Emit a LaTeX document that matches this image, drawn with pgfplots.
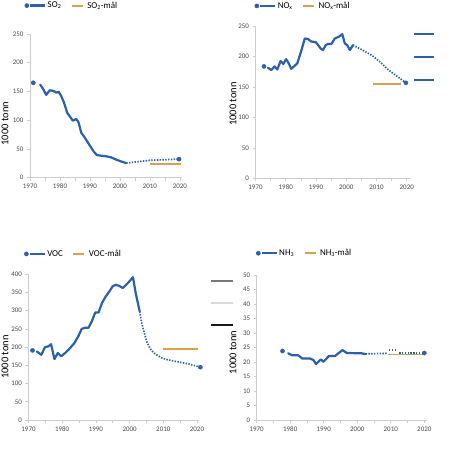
\documentclass[border=0pt]{standalone}
\usepackage{pgfplots}
\pgfplotsset{compat=1.18}
\usepackage{fontspec}
\setmainfont{Carlito}
\definecolor{sblue}{RGB}{42,96,172}
\definecolor{sorange}{RGB}{218,160,78}
\definecolor{axgray}{RGB}{205,205,205}
\definecolor{txtgray}{RGB}{70,70,70}
\pgfplotsset{
  myaxis/.style={
    scale only axis, clip=false,
    axis x line*=bottom, axis y line*=left,
    axis line style={-, axgray, line width=0.8bp},
    tick style={axgray, line width=0.6bp},
    tick align=outside,
    major tick length=3bp, minor tick length=3bp,
    xmin=1970,
    xtick={1970,1980,...,2020},
    minor xtick={1975,1985,...,2015},
    ticklabel style={font=\fontsize{7}{8}\selectfont, text=txtgray},
    /pgf/number format/assume math mode=true,
    /pgf/number format/1000 sep={},
    ymin=0,
    ylabel={1000 tonn},
    ylabel style={font=\fontsize{10.5}{12}\selectfont, text=black, anchor=center},
    legend columns=2,
    legend style={draw=none, fill=none, font=\fontsize{9}{10}\selectfont, inner sep=0pt, outer sep=0pt,
      anchor=west, nodes={inner xsep=1.5bp, inner ysep=0.5bp},
      /tikz/every even column/.append style={column sep=8bp}},
    legend cell align=left,
  },
  mainimg/.style={legend image code/.code={
     \draw[sblue, line width=2.2bp] (3.3bp,0) -- (18.3bp,0);
     \fill[sblue] (0,0) circle (2.1bp);}},
  goalimg/.style={legend image code/.code={
     \draw[draw=sorange, line width=1.9bp] (0bp,0) -- (11bp,0);
     \path[draw=none] (11bp,0) -- (14bp,0);}},
  solidline/.style={sblue, line width=2.2bp, line join=round, line cap=round},
  dotline/.style={sblue, line width=1.7bp, dash pattern=on 1.4bp off 1.4bp},
  goal/.style={sorange, line width=1.8bp},
  endpt/.style={only marks, mark=*, mark size=2.1bp, sblue},
}
\begin{document}
\begin{tikzpicture}
\useasboundingbox (0,0) rectangle (467bp,-457bp);

% ---------------- SO2 ----------------
\begin{axis}[myaxis, at={(30bp,-177.5bp)}, anchor=south west,
  width=152bp, height=143.5bp, xmax=2020.7, ymax=250, ytick={0,50,...,250},
  ylabel style={at={(axis description cs:-0.164,0.375)}},
  legend style={at={(axis description cs:-0.036,1.198)}}]
\addlegendimage{mainimg}\addlegendentry{SO\textsubscript{2}}
\addlegendimage{goalimg}\addlegendentry{SO\textsubscript{2}-mål}
\addplot[solidline, forget plot] coordinates {
(1973.4,162) (1974.4,154) (1975.4,144) (1976.6,152) (1977.7,151) (1978.8,148) (1979.6,149)
(1980.4,142) (1981.3,131) (1982.4,113) (1983.6,104) (1984.3,99) (1985.4,102) (1986.2,96)
(1987.1,78) (1988.2,70) (1989.3,61) (1990.4,52) (1991.3,45) (1992.3,39) (1993.8,38)
(1995.4,37) (1997.1,35) (1998.8,31) (2000.4,28) (2002.1,25)};
\addplot[dotline, forget plot] coordinates {(2002.1,25) (2005,27) (2010,30) (2015,31) (2019.7,32)};
\addplot[goal, forget plot] coordinates {(2010.1,23) (2020.2,23)};
\addplot[endpt, forget plot] coordinates {(1971.1,165) (2019.7,32)};
\end{axis}

% ---------------- NOx ----------------
\begin{axis}[myaxis, at={(255.5bp,-178.3bp)}, anchor=south west,
  width=155.5bp, height=152bp, xmax=2021.4, ymax=250, ytick={0,50,...,250},
  ylabel style={at={(axis description cs:-0.145,0.489)}},
  legend style={at={(axis description cs:-0.006,1.134)}}]
\addlegendimage{mainimg}\addlegendentry{NO\textsubscript{x}}
\addlegendimage{goalimg}\addlegendentry{NO\textsubscript{x}-mål}
\addplot[solidline, forget plot] coordinates {
(1974.1,182) (1975.2,178) (1976.3,184) (1977.2,179) (1978.3,193) (1979.2,188) (1980.1,196)
(1981,189) (1981.8,180) (1982.7,184) (1983.8,189) (1984.9,206) (1986.3,230) (1987.4,229)
(1988.4,225) (1989.9,224) (1990.7,219) (1991.6,213) (1992.3,211) (1993.2,219) (1994,221)
(1995.1,221) (1996.2,230) (1997.6,233) (1998.7,237) (1999.5,222) (2000.3,219) (2001.2,211)
(2002.2,219)};
\addplot[dotline, forget plot] coordinates {(2002.2,219) (2005,212) (2008.5,202) (2011,192) (2014,178) (2017,167) (2019.7,157)};
\addplot[goal, forget plot] coordinates {(2008.8,155.5) (2018,155.5)};
\addplot[endpt, forget plot] coordinates {(1972.8,184) (2019.7,157)};
\addplot[solidline, line cap=butt, forget plot] coordinates {(2022.4,237) (2029,237)};
\addplot[solidline, line cap=butt, forget plot] coordinates {(2022.4,199) (2029,199)};
\addplot[solidline, line cap=butt, forget plot] coordinates {(2022.4,162) (2029,162)};
\end{axis}

% ---------------- VOC ----------------
\begin{axis}[myaxis, at={(28.5bp,-420bp)}, anchor=south west,
  width=170bp, height=145.8bp, xmax=2020.45, ymax=400, ytick={0,50,...,400},
  ylabel style={at={(axis description cs:-0.138,0.432)}},
  legend style={at={(axis description cs:-0.026,1.139)}}]
\addlegendimage{mainimg}\addlegendentry{VOC}
\addlegendimage{goalimg}\addlegendentry{VOC-mål}
\addplot[solidline, forget plot] coordinates {
(1972.5,188) (1973.8,179) (1974.9,200) (1975.9,202) (1976.7,208) (1977.7,167) (1978.7,184)
(1979.7,175) (1980.9,184) (1982.1,195) (1983.6,211) (1984.8,230) (1985.8,250) (1986.8,253)
(1987.8,253) (1988.8,271) (1989.8,295) (1990.8,295) (1991.8,321) (1992.8,337) (1994,353)
(1995,367) (1995.9,371) (1996.9,368) (1998,362) (1999.2,373) (2000.2,383) (2001,392)
(2001.9,344) (2003,298)};
\addplot[dotline, forget plot] coordinates {(2003,298) (2003.6,266) (2004.2,245) (2005.1,215) (2006,197) (2007.1,185) (2008.3,177) (2009.6,170) (2011,166) (2013.5,161) (2017.5,154) (2021,145)};
\addplot[goal, forget plot] coordinates {(2009.8,195) (2020.2,195)};
\addplot[endpt, forget plot] coordinates {(1971.2,191) (2021,145)};
\addplot[color={rgb,255:red,120;green,120;blue,120}, line width=2bp, forget plot] coordinates {(2024.3,380) (2030.8,380)};
\addplot[color={rgb,255:red,218;green,218;blue,218}, line width=2bp, forget plot] coordinates {(2024.3,321) (2030.8,321)};
\addplot[color={rgb,255:red,25;green,25;blue,25}, line width=2bp, forget plot] coordinates {(2024.3,262) (2030.8,262)};
\end{axis}

% ---------------- NH3 ----------------
\begin{axis}[myaxis, at={(256.7bp,-420bp)}, anchor=south west,
  width=170.6bp, height=145bp, xmax=2020.9, ymax=50, ytick={0,5,...,50},
  ylabel style={at={(axis description cs:-0.139,0.466)}},
  legend style={at={(axis description cs:-0.004,1.15)}}]
\addlegendimage{mainimg}\addlegendentry{NH\textsubscript{3}}
\addlegendimage{goalimg}\addlegendentry{NH\textsubscript{3}-mål}
\addplot[solidline, forget plot] coordinates {
(1979.4,23.0) (1980.6,22.3) (1982.4,22.3) (1983.6,21.2) (1985.9,21.2) (1986.9,20.7) (1987.7,19.3)
(1989.1,20.9) (1989.9,20.1) (1991.6,22.1) (1993.4,22.1) (1995.6,24.1) (1996.9,23.1) (2001.3,23.0)
(2002.5,22.7)};
\addplot[goal, forget plot] coordinates {(2009.3,22.6) (2019.6,22.6)};
\addplot[dotline, forget plot] coordinates {(2002.5,22.8) (2009,23.0)};
\addplot[dotline, forget plot] coordinates {(2009.5,24.2) (2012,24.2)};
\addplot[dotline, forget plot] coordinates {(2012.5,23.1) (2020,23.1)};
\addplot[endpt, forget plot] coordinates {(1977.7,23.8) (2020,23.1)};
\end{axis}
\end{tikzpicture}
\end{document}
